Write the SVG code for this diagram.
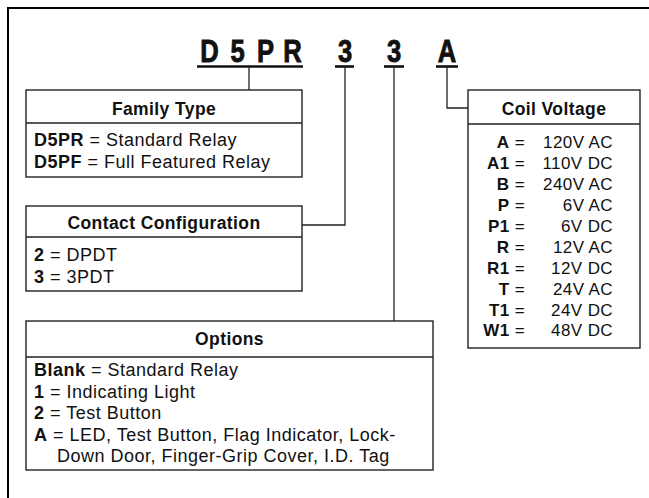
<svg xmlns="http://www.w3.org/2000/svg" width="649" height="498" viewBox="0 0 649 498">
<style>
  .frame { fill: none; stroke: #000; stroke-width: 2; }
  .box { fill: #fff; stroke: #222; stroke-width: 1.4; }
  .div { stroke: #222; stroke-width: 1.4; }
  .conn { fill: none; stroke: #222; stroke-width: 1.3; }
  .ul { stroke: #111; stroke-width: 2.6; }
  .code { font-family: "Liberation Sans", Arial, sans-serif; font-weight: bold; font-size: 32px; fill: #111; text-anchor: middle; stroke: #111; stroke-width: 0.9; }
  .t { font-family: "Liberation Sans", Arial, sans-serif; font-size: 18px; fill: #111; letter-spacing: 0.5px; }
  .c { font-family: "Liberation Sans", Arial, sans-serif; font-size: 17px; fill: #111; letter-spacing: 0.4px; text-anchor: end; }
  .h { font-family: "Liberation Sans", Arial, sans-serif; font-size: 17.5px; font-weight: bold; fill: #111; text-anchor: middle; letter-spacing: 0.4px; }
  .b { font-weight: bold; }
</style>

<path class="frame" d="M8,498 V8 H649"/>

<g id="code">
  <text class="code" transform="translate(209.5,62) scale(0.8,1)">D</text>
  <text class="code" transform="translate(237.5,62) scale(0.8,1)">5</text>
  <text class="code" transform="translate(265.5,62) scale(0.8,1)">P</text>
  <text class="code" transform="translate(292.5,62) scale(0.8,1)">R</text>
  <text class="code" transform="translate(345,62) scale(0.8,1)">3</text>
  <text class="code" transform="translate(394,62) scale(0.8,1)">3</text>
  <text class="code" transform="translate(447,62) scale(0.8,1)">A</text>
  <line class="ul" x1="197" y1="66.5" x2="303" y2="66.5"/>
  <line class="ul" x1="335" y1="66.5" x2="354" y2="66.5"/>
  <line class="ul" x1="384" y1="66.5" x2="404" y2="66.5"/>
  <line class="ul" x1="436" y1="66.5" x2="458" y2="66.5"/>
</g>

<g id="connectors">
  <path class="conn" d="M249,67 V90"/>
  <path class="conn" d="M345,67 V225 H302"/>
  <path class="conn" d="M394,67 V321"/>
  <path class="conn" d="M447,67 V108 H468"/>
</g>

<g id="family">
  <rect class="box" x="26" y="90" width="276" height="87"/>
  <line class="div" x1="26" y1="123" x2="302" y2="123"/>
  <text class="h" x="164" y="115">Family Type</text>
  <text class="t" x="34" y="146"><tspan class="b">D5PR</tspan> = Standard Relay</text>
  <text class="t" x="34" y="168"><tspan class="b">D5PF</tspan> = Full Featured Relay</text>
</g>

<g id="contact">
  <rect class="box" x="26" y="206" width="276" height="85"/>
  <line class="div" x1="26" y1="237" x2="302" y2="237"/>
  <text class="h" x="164" y="229">Contact Configuration</text>
  <text class="t" x="34" y="261"><tspan class="b">2</tspan> = DPDT</text>
  <text class="t" x="34" y="283"><tspan class="b">3</tspan> = 3PDT</text>
</g>

<g id="options">
  <rect class="box" x="26" y="321" width="407" height="149"/>
  <line class="div" x1="26" y1="357" x2="433" y2="357"/>
  <text class="h" x="229.5" y="345">Options</text>
  <text class="t" x="34" y="376"><tspan class="b">Blank</tspan> = Standard Relay</text>
  <text class="t" x="34" y="397.5"><tspan class="b">1</tspan> = Indicating Light</text>
  <text class="t" x="34" y="419"><tspan class="b">2</tspan> = Test Button</text>
  <text class="t" x="34" y="440.5"><tspan class="b">A</tspan> = LED, Test Button, Flag Indicator, Lock-</text>
  <text class="t" x="57" y="462">Down Door, Finger-Grip Cover, I.D. Tag</text>
</g>

<g id="coil">
  <rect class="box" x="468" y="90" width="172" height="258"/>
  <line class="div" x1="468" y1="124" x2="640" y2="124"/>
  <text class="h" x="554" y="115">Coil Voltage</text>
  <text class="c" x="525" y="148"><tspan class="b">A</tspan> =</text><text class="c" x="613" y="148">120V AC</text>
  <text class="c" x="525" y="169"><tspan class="b">A1</tspan> =</text><text class="c" x="613" y="169">110V DC</text>
  <text class="c" x="525" y="190"><tspan class="b">B</tspan> =</text><text class="c" x="613" y="190">240V AC</text>
  <text class="c" x="525" y="211"><tspan class="b">P</tspan> =</text><text class="c" x="613" y="211">6V AC</text>
  <text class="c" x="525" y="232"><tspan class="b">P1</tspan> =</text><text class="c" x="613" y="232">6V DC</text>
  <text class="c" x="525" y="252.5"><tspan class="b">R</tspan> =</text><text class="c" x="613" y="252.5">12V AC</text>
  <text class="c" x="525" y="273.5"><tspan class="b">R1</tspan> =</text><text class="c" x="613" y="273.5">12V DC</text>
  <text class="c" x="525" y="294.5"><tspan class="b">T</tspan> =</text><text class="c" x="613" y="294.5">24V AC</text>
  <text class="c" x="525" y="315.5"><tspan class="b">T1</tspan> =</text><text class="c" x="613" y="315.5">24V DC</text>
  <text class="c" x="525" y="336"><tspan class="b">W1</tspan> =</text><text class="c" x="613" y="336">48V DC</text>
</g>
</svg>
